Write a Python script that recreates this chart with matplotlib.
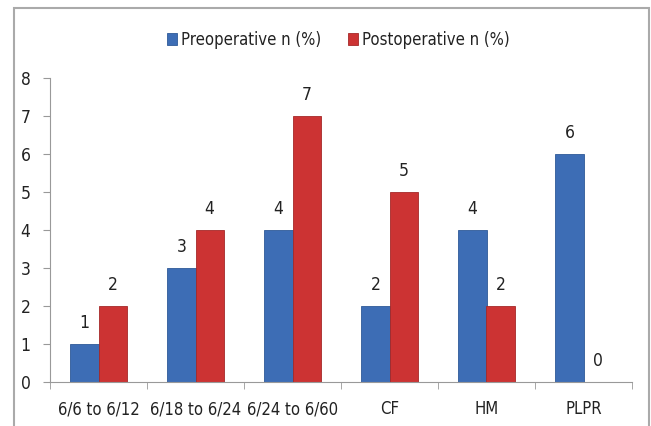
import matplotlib.pyplot as plt
import matplotlib.patches as mpatches
import numpy as np

CATEGORIES = ["6/6 to 6/12", "6/18 to 6/24", "6/24 to 6/60", "CF", "HM", "PLPR"]
PREOP = [1, 3, 4, 2, 4, 6]
POSTOP = [2, 4, 7, 5, 2, 0]
SERIES = ["Preoperative n (%)", "Postoperative n (%)"]

BLUE = "#3D6DB5"
RED = "#CC3333"

plt.rcParams["font.family"] = ["DejaVu Sans"]
plt.rcParams["font.stretch"] = "condensed"


def main():
    fig = plt.figure(figsize=(6.51, 4.26), dpi=100)
    ax = fig.add_axes([50 / 651, 44 / 426, 582 / 651, 304 / 426])

    x = np.arange(len(CATEGORIES))
    w = 0.29
    b1 = ax.bar(x - w / 2, PREOP, w, color=BLUE, edgecolor="#2F5A98", linewidth=0.6, label=SERIES[0])
    b2 = ax.bar(x + w / 2, POSTOP, w, color=RED, edgecolor="#A52828", linewidth=0.6, label=SERIES[1])

    for bars in (b1, b2):
        for rect in bars:
            h = rect.get_height()
            ax.annotate(f"{h:g}", (rect.get_x() + rect.get_width() / 2, h),
                        xytext=(0, 15), textcoords="offset points",
                        ha="center", va="center", fontsize=12.5, color="#222222")

    ax.set_xlim(-0.5, len(CATEGORIES) - 0.5)
    ax.set_ylim(0, 8)
    ax.set_yticks(range(0, 9))
    ax.set_xticks(x)
    ax.set_xticklabels(CATEGORIES)
    ax.set_xticks(np.arange(-0.5, len(CATEGORIES)), minor=True)
    ax.tick_params(axis="x", which="major", length=0, pad=13, labelsize=12, labelcolor="#222222")
    ax.tick_params(axis="x", which="minor", length=5, color="#999999")
    ax.tick_params(axis="y", length=5, color="#999999", pad=9, labelsize=12.5, labelcolor="#222222")

    for s in ["top", "right"]:
        ax.spines[s].set_visible(False)
    for s in ["left", "bottom"]:
        ax.spines[s].set_color("#999999")

    fig.legend(handles=[b1, b2], loc="center", bbox_to_anchor=(338 / 651, 1 - 40 / 426),
               ncol=2, frameon=False, fontsize=12, handlelength=0.6, handleheight=0.7,
               handletextpad=0.25, columnspacing=1.6, labelcolor="#222222")

    # outer chart border
    fig.patches.append(mpatches.Rectangle((14 / 651, -0.05), 635 / 651, (426 - 8) / 426 + 0.05,
                                          transform=fig.transFigure, fill=False,
                                          edgecolor="#AAAAAA", linewidth=1.5))

    fig.savefig("out.png", dpi=100)


if __name__ == "__main__":
    main()
